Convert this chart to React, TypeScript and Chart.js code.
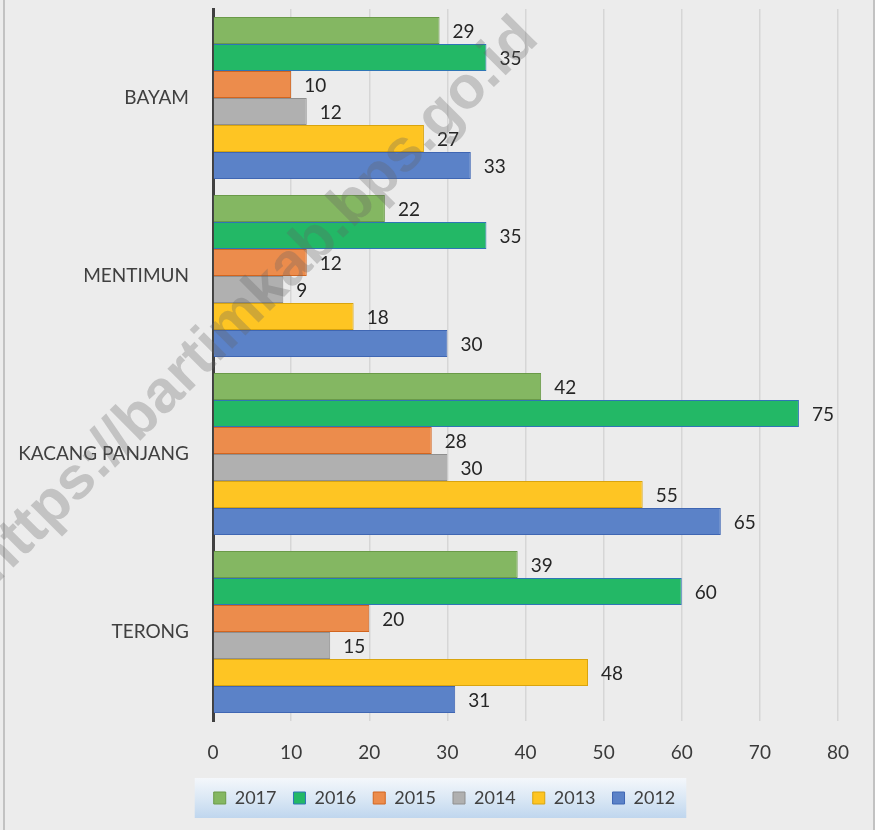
import React, { useEffect, useRef } from 'react';
import { Chart, registerables } from 'chart.js';

Chart.register(...registerables);

const categories = ['BAYAM', 'MENTIMUN', 'KACANG PANJANG', 'TERONG'];
const seriesNames = ['2017', '2016', '2015', '2014', '2013', '2012'];
const values2017 = [29, 22, 42, 39];
const values2016 = [35, 35, 75, 60];
const values2015 = [10, 12, 28, 20];
const values2014 = [12, 9, 30, 15];
const values2013 = [27, 18, 55, 48];
const values2012 = [33, 30, 65, 31];
const seriesValues = [values2017, values2016, values2015, values2014, values2013, values2012];
const xMin = 0;
const xMax = 80;
const xStep = 10;
const watermarkText = 'https://bartimkab.bps.go.id';

const fillColors = ['#84b762', '#23b866', '#ec8c4c', '#b0b0b0', '#fec523', '#5b82c8'];
const borderColors = ['#6a9a48', '#2e75b6', '#d2651f', '#8f8f8f', '#d9a40e', '#3f66b3'];

const FONT = 'Lato, "Open Sans", sans-serif';

const bgPlugin = {
  id: 'bgPlugin',
  afterLayout(chart: any) {
    const legend = chart.legend;
    if (legend) {
      legend.left = 51;
    }
  },
  beforeDraw(chart: any) {
    const { ctx, width, height } = chart;
    ctx.save();
    ctx.fillStyle = '#ececec';
    ctx.fillRect(0, 0, width, height);
    ctx.strokeStyle = '#c2c2c2';
    ctx.lineWidth = 2;
    ctx.beginPath();
    ctx.moveTo(4, 0);
    ctx.lineTo(4, height);
    ctx.moveTo(width - 1, 0);
    ctx.lineTo(width - 1, height);
    ctx.stroke();
    const legend = chart.legend;
    if (legend && legend.legendHitBoxes && legend.legendHitBoxes.length) {
      const boxes = legend.legendHitBoxes;
      const first = boxes[0];
      const last = boxes[boxes.length - 1];
      const left = first.left - 19;
      const right = last.left + last.width + 11;
      const cy = first.top + first.height / 2;
      const top = cy - 20;
      const bottom = cy + 20;
      const g = ctx.createLinearGradient(0, top, 0, bottom);
      g.addColorStop(0, '#f4f7fb');
      g.addColorStop(0.5, '#dbe8f5');
      g.addColorStop(1, '#bfd6ee');
      ctx.fillStyle = g;
      ctx.fillRect(left, top, right - left, bottom - top);
    }
    ctx.restore();
  },
};

const dataLabelPlugin = {
  id: 'dataLabelPlugin',
  afterDatasetsDraw(chart: any) {
    const ctx = chart.ctx;
    ctx.save();
    ctx.font = `19px ${FONT}`;
    ctx.fillStyle = '#262626';
    ctx.textAlign = 'left';
    ctx.textBaseline = 'middle';
    chart.data.datasets.forEach((ds: any, i: number) => {
      const meta = chart.getDatasetMeta(i);
      meta.data.forEach((bar: any, j: number) => {
        ctx.fillText(String(ds.data[j]), bar.x + 13, bar.y + 1);
      });
    });
    ctx.restore();
  },
};

const watermarkPlugin = {
  id: 'watermarkPlugin',
  afterDraw(chart: any) {
    const ctx = chart.ctx;
    ctx.save();
    ctx.translate(-4, 585);
    ctx.rotate(-Math.PI / 4);
    ctx.font = 'bold 60px "Liberation Sans", Arial, sans-serif';
    ctx.fillStyle = 'rgba(100,100,100,0.3)';
    ctx.textAlign = 'left';
    ctx.textBaseline = 'alphabetic';
    ctx.fillText(watermarkText, 0, 0);
    ctx.restore();
  },
};

export default function App() {
  const canvasRef = useRef<HTMLCanvasElement | null>(null);

  useEffect(() => {
    document.body.style.margin = '0';
    let chart: Chart | null = null;
    let cancelled = false;
    const make = () => {
      if (cancelled || !canvasRef.current) return;
      chart = new Chart(canvasRef.current, {
        type: 'bar',
        data: {
          labels: categories,
          datasets: seriesNames.map((name, i) => ({
            label: name,
            data: seriesValues[i],
            backgroundColor: fillColors[i],
            borderColor: borderColors[i],
            borderWidth: 1,
            categoryPercentage: 0.91,
            barPercentage: 1,
          })),
        },
        options: {
          indexAxis: 'y',
          responsive: false,
          animation: false,
          layout: { padding: { top: 9, right: 37, bottom: 13, left: 0 } },
          scales: {
            x: {
              type: 'linear',
              min: xMin,
              max: xMax,
              ticks: {
                stepSize: xStep,
                color: '#3a3a3a',
                font: { family: FONT, size: 19 },
                padding: 20,
              },
              grid: {
                color: (c: any) => (c.tick && c.tick.value === 0 ? 'rgba(0,0,0,0)' : '#d6d6d6'),
                lineWidth: 1.5,
                drawTicks: false,
              },
              border: { display: false },
              afterFit: (scale: any) => {
                scale.height = 51;
                scale.paddingLeft = 0;
                scale.paddingRight = 0;
              },
            },
            y: {
              type: 'category',
              grid: { display: false, drawTicks: false },
              border: { display: true, color: '#404040', width: 3 },
              ticks: {
                color: '#404040',
                font: { family: FONT, size: 19 },
                padding: 24,
              },
              afterFit: (scale: any) => {
                scale.width = 213;
                scale.paddingTop = 0;
                scale.paddingBottom = 0;
              },
            },
          },
          plugins: {
            legend: {
              position: 'bottom',
              labels: {
                boxWidth: 12,
                boxHeight: 12,
                padding: 17,
                color: '#404040',
                font: { family: FONT, size: 18 },
              },
            },
            tooltip: { enabled: false },
          },
        },
        plugins: [bgPlugin, dataLabelPlugin, watermarkPlugin],
      });
    };
    const fontsApi = (document as any).fonts;
    if (fontsApi && fontsApi.load) {
      Promise.all([
        fontsApi.load(`18px Lato`),
        fontsApi.load(`bold 60px "Liberation Sans"`),
      ])
        .catch(() => null)
        .then(make);
    } else {
      make();
    }
    return () => {
      cancelled = true;
      if (chart) chart.destroy();
    };
  }, []);

  return (
    <div style={{ width: 875, height: 830, background: '#ececec' }}>
      <canvas ref={canvasRef} width={875} height={830} style={{ display: 'block' }} />
    </div>
  );
}
